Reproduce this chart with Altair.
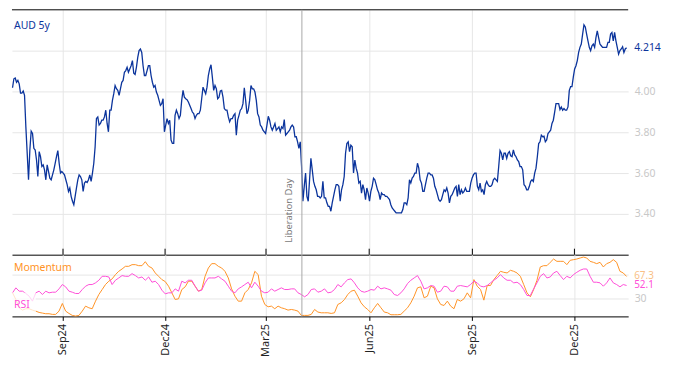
import altair as alt
import pandas as pd

# ---------------- data ----------------
aud5y = [
    4.018, 4.062, 4.066, 4.045, 4.054, 4.037, 3.992, 3.992, 4.002, 3.981,
    3.826, 3.697, 3.567, 3.713, 3.805, 3.794, 3.721, 3.713, 3.664, 3.583,
    3.705, 3.680, 3.632, 3.640, 3.616, 3.567, 3.640, 3.608, 3.575, 3.567,
    3.591, 3.616, 3.648, 3.680, 3.710, 3.648, 3.600, 3.608, 3.600, 3.591,
    3.567, 3.543, 3.510, 3.527, 3.486, 3.462, 3.445, 3.486, 3.527, 3.567,
    3.591, 3.583, 3.567, 3.510, 3.551, 3.559, 3.554, 3.567, 3.591, 3.559,
    3.600, 3.648, 3.729, 3.867, 3.875, 3.835, 3.843, 3.859, 3.859, 3.875,
    3.908, 3.843, 3.802, 3.908, 3.908, 3.956, 3.989, 4.029, 4.013, 4.005,
    3.981, 4.013, 4.045, 4.054, 4.094, 4.102, 4.118, 4.094, 4.110, 4.126,
    4.151, 4.089, 4.083, 4.118, 4.167, 4.200, 4.208, 4.191, 4.126, 4.078,
    4.078, 4.102, 4.126, 4.126, 4.078, 4.045, 4.021, 4.029, 3.997, 3.981,
    3.956, 3.932, 3.940, 3.964, 3.802, 3.835, 3.867, 3.843, 3.859, 3.762,
    3.745, 3.745, 3.883, 3.908, 3.891, 3.867, 3.883, 3.956, 4.005, 3.972,
    3.964, 3.960, 3.948, 3.932, 3.916, 3.899, 3.891, 3.867, 3.883, 3.891,
    3.891, 3.908, 3.964, 4.021, 4.005, 3.989, 4.021, 4.078, 4.110, 4.131,
    4.070, 4.005, 4.029, 4.013, 3.964, 3.972, 4.002, 4.005, 3.972, 3.916,
    3.908, 3.908, 3.875, 3.851, 3.867, 3.867, 3.883, 3.891, 3.786, 3.859,
    3.883, 3.908, 3.916, 3.940, 4.018, 3.956, 3.891, 3.908, 3.956, 4.029,
    4.013, 4.013, 3.997, 3.956, 3.891, 3.875, 3.835, 3.826, 3.810, 3.802,
    3.794, 3.835, 3.878, 3.859, 3.826, 3.810, 3.826, 3.843, 3.810, 3.818,
    3.826, 3.802, 3.826, 3.818, 3.862, 3.786, 3.794, 3.802, 3.810, 3.826,
    3.835, 3.826, 3.778, 3.778, 3.753, 3.721, 3.753, 3.632, 3.462, 3.535,
    3.600, 3.486, 3.462, 3.567, 3.672, 3.616, 3.559, 3.535, 3.518, 3.486,
    3.486, 3.478, 3.486, 3.559, 3.478, 3.478, 3.454, 3.437, 3.437, 3.413,
    3.454, 3.486, 3.518, 3.543, 3.543,
    3.535, 3.462, 3.518, 3.543, 3.583, 3.697, 3.745, 3.753, 3.705, 3.737,
    3.729, 3.600, 3.664, 3.624, 3.600, 3.551, 3.559, 3.502, 3.543, 3.518,
    3.470, 3.527, 3.502, 3.462, 3.510, 3.535, 3.575, 3.567, 3.543, 3.518,
    3.502, 3.470, 3.502, 3.494, 3.494, 3.486, 3.486, 3.478, 3.470, 3.445,
    3.429, 3.421, 3.413, 3.405, 3.405, 3.405, 3.405, 3.405, 3.421, 3.454,
    3.454, 3.445, 3.478, 3.567, 3.551, 3.575, 3.583, 3.600, 3.600, 3.648,
    3.624, 3.567, 3.551, 3.510, 3.510, 3.543, 3.575, 3.600, 3.600, 3.591,
    3.591, 3.575, 3.535, 3.518, 3.494, 3.470, 3.462, 3.470, 3.494, 3.518,
    3.510, 3.527, 3.502, 3.454, 3.486, 3.494, 3.510, 3.527, 3.535, 3.486,
    3.543, 3.494, 3.518, 3.502, 3.510, 3.527, 3.510, 3.510, 3.510, 3.551,
    3.575, 3.591, 3.600, 3.600, 3.535, 3.518, 3.551, 3.510, 3.518, 3.494,
    3.543, 3.559, 3.543, 3.535, 3.535, 3.543, 3.567, 3.575, 3.567, 3.559,
    3.632, 3.710, 3.697, 3.664, 3.697, 3.697, 3.672, 3.697, 3.705, 3.684,
    3.680, 3.713, 3.689, 3.680, 3.664, 3.656, 3.632, 3.632, 3.616, 3.543,
    3.535, 3.518, 3.518, 3.535, 3.559, 3.567, 3.559, 3.600, 3.624, 3.680,
    3.745, 3.753, 3.786, 3.778, 3.781, 3.753, 3.762, 3.794, 3.802, 3.810,
    3.843, 3.859, 3.899, 3.940, 3.940, 3.940, 3.911, 3.924, 3.908, 3.916,
    3.908, 3.908, 3.924, 4.005, 4.024, 4.024, 4.070, 4.110, 4.126, 4.151,
    4.191, 4.216, 4.232, 4.281, 4.326, 4.316, 4.281, 4.248, 4.216, 4.200,
    4.224, 4.232, 4.216, 4.264, 4.297, 4.264, 4.232, 4.224, 4.216, 4.216,
    4.216, 4.216, 4.240, 4.240, 4.281, 4.289, 4.248, 4.289, 4.248, 4.216,
    4.183, 4.200, 4.208, 4.219, 4.191, 4.208, 4.214,
]

momentum = [
    39.7, 28.5, 14.5, 10.6, 12.9, 12.9, 10.6, 8.9, 6.7, 5.6,
    4.5, 4.5, 3.4, 3.4, 8.9, 21.8, 8.9, 5.0, 1.7, 0.6,
    1.7, 8.9, 17.3, 14.5, 12.9, 25.7, 36.9, 45.3, 53.7, 59.3,
    63.2, 70.4, 76.0, 79.9, 84.4, 84.4, 87.2, 87.2, 85.5, 85.5,
    92.2, 84.4, 81.6, 73.2, 67.6, 62.0, 58.7, 50.9, 39.7, 28.5,
    29.6, 45.3, 49.8, 59.3, 59.3, 50.9, 42.5, 45.3, 67.6, 81.6,
    88.9, 88.9, 84.4, 81.6, 76.0, 64.8, 46.4, 34.1, 25.7, 25.7,
    39.7, 45.3, 56.5, 76.0, 70.4, 34.1, 20.1, 16.2, 17.3, 12.9,
    17.3, 14.5, 12.9, 10.6, 11.7, 10.6, 8.9, 1.7, 1.7, 1.7,
    3.4, 11.7, 7.3, 6.1, 6.1, 6.1,
    5.0, 6.1, 20.1, 22.9, 28.5, 36.9, 42.5, 44.2, 34.1, 22.9,
    16.2, 11.7, 6.1, 14.5, 21.8, 14.5, 7.3, 6.1, 2.8, 2.8,
    2.8, 3.4, 8.9, 14.5, 22.9, 34.1, 48.1, 49.8, 31.3, 34.1,
    50.9, 48.1, 29.6, 20.1, 18.4, 25.7, 17.3, 12.9, 28.5, 25.7,
    29.6, 39.7, 31.3, 62.0, 50.9, 45.3, 27.4, 52.0, 52.0, 62.0,
    68.8, 76.0, 74.3, 73.2, 77.7, 76.0, 73.2, 67.6, 53.7, 39.7,
    33.0, 45.3, 60.9, 83.3, 85.5, 85.5, 91.1, 96.7, 92.8, 92.8,
    92.8, 87.2, 94.5, 95.6, 96.7, 98.4, 100.0, 98.4, 92.8, 91.1,
    88.9, 91.1, 83.3, 88.9, 91.1, 95.6, 91.1, 76.0, 73.2, 67.3,
]

rsi = [
    39.7, 48.1, 42.5, 42.5, 38.6, 34.1, 25.7, 39.7, 42.5, 36.9,
    42.5, 39.7, 40.8, 40.8, 46.4, 53.7, 49.8, 42.5, 40.8, 38.6,
    38.6, 45.3, 50.9, 53.7, 53.7, 56.5, 60.9, 67.6, 67.6, 66.5,
    53.7, 60.9, 64.8, 68.8, 67.6, 67.6, 72.1, 68.8, 64.8, 66.5,
    60.9, 66.5, 57.6, 59.3, 53.7, 44.2, 38.0, 39.7, 39.7, 46.4,
    42.5, 59.3, 56.5, 60.9, 60.9, 50.9, 42.5, 44.2, 56.5, 64.8,
    64.8, 64.8, 67.6, 63.2, 59.3, 50.9, 42.5, 39.7, 46.4, 49.8,
    53.7, 57.6, 48.1, 57.6, 50.9, 42.5, 39.7, 40.8, 46.4, 42.5,
    45.3, 48.1, 45.3, 45.3, 46.4, 46.4, 39.7, 36.9, 33.0, 36.9,
    45.3, 46.4, 40.8, 42.5, 46.4, 39.7,
    40.8, 45.3, 53.7, 49.8, 56.5, 62.0, 63.2, 56.5, 48.1, 42.5,
    40.8, 42.5, 45.3, 44.2, 50.9, 46.4, 48.1, 46.4, 44.2, 36.9,
    35.2, 39.7, 46.4, 55.3, 60.9, 64.8, 68.8, 59.3, 46.4, 48.1,
    52.0, 50.9, 40.8, 42.5, 50.9, 49.8, 42.5, 42.5, 50.9, 52.0,
    50.9, 49.8, 53.7, 59.3, 56.5, 50.9, 49.8, 52.0, 56.5, 60.9,
    64.8, 70.4, 64.8, 60.9, 60.9, 56.5, 57.6, 53.7, 45.3, 35.2,
    35.2, 46.4, 56.5, 67.6, 72.1, 64.8, 66.5, 73.2, 76.0, 68.8,
    62.0, 67.6, 64.8, 70.4, 74.3, 77.7, 79.9, 79.9, 67.6, 57.6,
    57.6, 56.5, 50.9, 56.5, 64.8, 56.5, 53.7, 49.8, 53.7, 52.1,
]

series_start = "2024-07-18"
series_end = "2026-01-16 12:00"
tick_months = [(2024, 9), (2024, 12), (2025, 3), (2025, 6), (2025, 9), (2025, 12)]
event_date = "2025-04-02"
event_name = "Liberation Day"
rate_name = "AUD 5y"
ind_names = ["Momentum", "RSI"]
rate_ticks = [3.4, 3.6, 3.8, 4.0, 4.2]
ind_ticks = [30, 70]

# ---------------- styling ----------------
BLUE = "#0b349c"
ORANGE = "#ff9326"
ORANGE_LIGHT = "#f9bf86"
PINK = "#ff4fd8"
GRID = "#e6e6e6"
AXIS_TXT = "#c8c8c8"
FONT = "Noto Sans"
W, H1, H2 = 619, 246, 62


def dates(n):
    return pd.date_range(series_start, series_end, periods=n)


df_rate = pd.DataFrame({"date": dates(len(aud5y)), "value": aud5y})
df_ind = pd.DataFrame({"date": dates(len(momentum)), "momentum": momentum, "rsi": rsi})
df_ticks = pd.DataFrame({"date": [pd.Timestamp(y, m, 1) for y, m in tick_months]})
df_event = pd.DataFrame({"date": [pd.Timestamp(event_date)], "label": [event_name]})
df_rate_end = pd.DataFrame({"value": [aud5y[-1]], "label": [f"{aud5y[-1]:.3f}"]})
df_mom_end = pd.DataFrame({"momentum": [momentum[-1]], "label": [f"{momentum[-1]:.1f}"]})
df_rsi_end = pd.DataFrame({"rsi": [rsi[-1]], "label": [f"{rsi[-1]:.1f}"]})
one = pd.DataFrame({"rate": [rate_name], "mom": [ind_names[0]], "rsi": [ind_names[1]]})

tick_values = [alt.DateTime(year=y, month=m, date=1) for y, m in tick_months]
xscale = alt.Scale(domain=[alt.DateTime(year=2024, month=7, date=17, hours=12),
                           alt.DateTime(year=2026, month=1, date=17, hours=22)])

top_x_axis = alt.Axis(values=tick_values, labels=False, ticks=False, domain=True,
                      domainColor="black", domainWidth=1, grid=True, gridColor=GRID)
x_top = alt.X("date:T", scale=xscale, title=None, axis=top_x_axis)

y_top = alt.Y("value:Q", title=None,
              scale=alt.Scale(domain=[3.2, 4.4], nice=False, zero=False),
              axis=alt.Axis(orient="right", values=rate_ticks, format=".2f",
                            labelExpr="datum.value > 4.1 ? '' : datum.label",
                            grid=True, gridColor=GRID, domain=False, ticks=False,
                            labelColor=AXIS_TXT, labelFontSize=10.5, labelPadding=6,
                            labelFont=FONT))

top_line = alt.Chart(df_rate).mark_line(color=BLUE, strokeWidth=1.3).encode(x=x_top, y=y_top)
top_ticks = alt.Chart(df_ticks).mark_rule(color="black").encode(
    x=x_top, y=alt.value(H1 - 6), y2=alt.value(H1))
top_border = alt.Chart(one).mark_rule(color="black").encode(
    x=alt.value(0), x2=alt.value(W), y=alt.value(0))
top_event = alt.Chart(df_event).mark_rule(color="#a8a8a8", strokeWidth=1).encode(x=x_top)
top_event_txt = alt.Chart(df_event).mark_text(
    angle=270, align="left", baseline="alphabetic", dy=-10, fontSize=9.5,
    color="#7a7a7a", font=FONT).encode(x=x_top, y=alt.value(234), text="label:N")
top_name = alt.Chart(one).mark_text(align="left", baseline="middle", color=BLUE,
                                    fontSize=10.5, font=FONT).encode(
    x=alt.value(2), y=alt.value(16), text="rate:N")
top_end = alt.Chart(df_rate_end).mark_text(align="left", baseline="middle", color=BLUE,
                                           fontSize=10.5, font=FONT).encode(
    x=alt.value(W + 6), y=y_top, text="label:N")

top = alt.layer(top_line, top_ticks, top_border, top_event, top_event_txt,
                top_name, top_end).properties(width=W, height=H1)

bot_x_axis = alt.Axis(values=tick_values, format="%b%y", labelAngle=270,
                      labelAlign="right", labelBaseline="middle", labelFontSize=11,
                      labelColor="#222222", labelFont=FONT, labelPadding=3,
                      tickColor="black", tickSize=4, domainColor="black",
                      grid=True, gridColor=GRID)
x_bot = alt.X("date:T", scale=xscale, title=None, axis=bot_x_axis)
ind_scale = alt.Scale(domain=[0, 104], nice=False, zero=False)
ind_axis = alt.Axis(orient="right", values=ind_ticks,
                    labelExpr="datum.value == 30 ? '30' : ''",
                    grid=True, gridColor=GRID, domain=False, ticks=False,
                    labelColor=AXIS_TXT, labelFontSize=10.5, labelPadding=6,
                    labelFont=FONT)
y_mom = alt.Y("momentum:Q", title=None, scale=ind_scale, axis=ind_axis)
y_rsi = alt.Y("rsi:Q", title=None, scale=ind_scale, axis=ind_axis)

bot_mom = alt.Chart(df_ind).mark_line(color=ORANGE, strokeWidth=1).encode(x=x_bot, y=y_mom)
bot_rsi = alt.Chart(df_ind).mark_line(color=PINK, strokeWidth=1).encode(x=x_bot, y=y_rsi)
bot_event = alt.Chart(df_event).mark_rule(color="#a8a8a8", strokeWidth=1).encode(x=x_bot)
bot_box = alt.Chart(one).mark_rect(color="white", opacity=0.75).encode(
    x=alt.value(0), x2=alt.value(24), y=alt.value(38), y2=alt.value(60))
bot_mom_name = alt.Chart(one).mark_text(align="left", baseline="middle", color=ORANGE,
                                        fontSize=10.5, font=FONT).encode(
    x=alt.value(2), y=alt.value(13), text="mom:N")
bot_rsi_name = alt.Chart(one).mark_text(align="left", baseline="middle", color=PINK,
                                        fontSize=10.5, font=FONT).encode(
    x=alt.value(2), y=alt.value(51), text="rsi:N")
bot_mom_end = alt.Chart(df_mom_end).mark_text(align="left", baseline="middle",
                                              color=ORANGE_LIGHT, fontSize=10,
                                              font=FONT).encode(
    x=alt.value(W + 6), y=y_mom, text="label:N")
bot_rsi_end = alt.Chart(df_rsi_end).mark_text(align="left", baseline="middle",
                                              color=PINK, fontSize=10,
                                              font=FONT).encode(
    x=alt.value(W + 6), y=y_rsi, text="label:N")

bottom = alt.layer(bot_mom, bot_rsi, bot_event, bot_box, bot_mom_name, bot_rsi_name,
                   bot_mom_end, bot_rsi_end).properties(width=W, height=H2)

chart = alt.vconcat(top, bottom, spacing=0, bounds="flush").properties(
    padding={"left": 1, "top": 0, "right": 5, "bottom": 5}
).configure_view(stroke=None)

chart.save("out.html", embed_options={"renderer": "svg", "actions": False})
